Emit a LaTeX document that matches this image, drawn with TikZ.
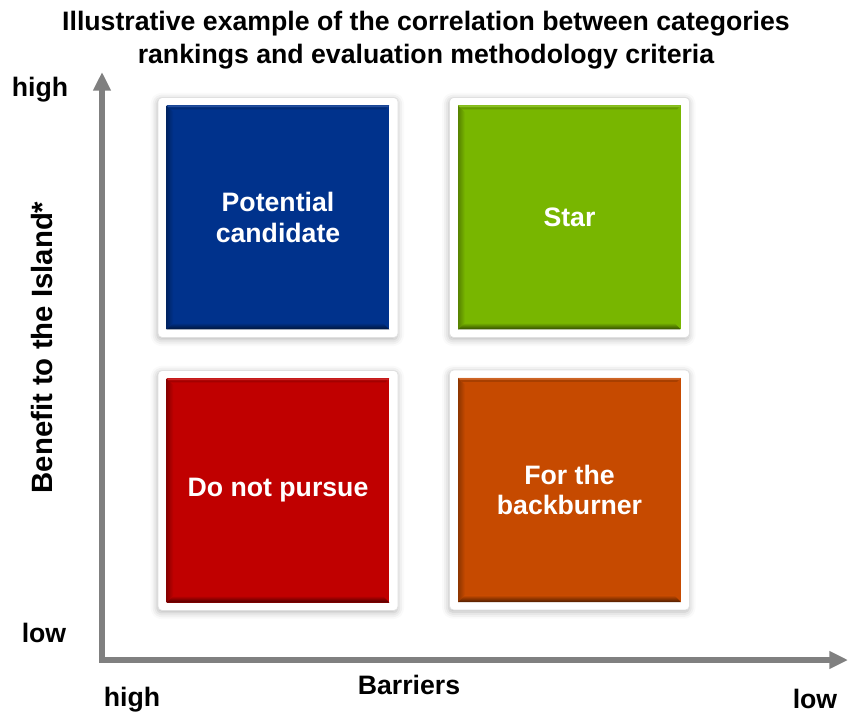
\documentclass[tikz,border=0pt]{standalone}
\usepackage{fontspec}
\setmainfont{Liberation Sans}
\usetikzlibrary{positioning,arrows.meta,shadows.blur,calc}
\definecolor{quadblue}{RGB}{0,50,140}
\definecolor{quadgreen}{RGB}{120,182,0}
\definecolor{quadred}{RGB}{192,0,0}
\definecolor{quadorange}{RGB}{198,74,0}
\definecolor{axisgray}{RGB}{128,128,128}
\tikzset{
	>={Triangle[length=14pt,width=12.5pt]},
	axis/.style = {draw=axisgray, line width=4.5pt, ->},
	label/.style = {font=\bfseries\fontsize{20}{24}\selectfont},
	frame/.style = {
		fill=white, draw=black!12, line width=0.6pt, rounded corners=3pt,
		minimum width=180pt, minimum height=180pt, inner sep=0pt,
		blur shadow={shadow xshift=-0.5pt, shadow yshift=-1.5pt, shadow blur radius=5pt, shadow opacity=30}
	},
	quad/.style = {
		fill=#1, text=white, align=center, inner sep=0pt,
		font=\bfseries\fontsize{20}{24}\selectfont,
		minimum width=167pt, minimum height=168pt,
		path picture={
			\coordinate (sw) at (path picture bounding box.south west);
			\coordinate (se) at (path picture bounding box.south east);
			\coordinate (nw) at (path picture bounding box.north west);
			\coordinate (ne) at (path picture bounding box.north east);
			\shade[left color=#1!72!black, right color=#1] (sw) -- (nw) -- ($(nw)+(5pt,-5pt)$) -- ($(sw)+(5pt,5pt)$) -- cycle;
			\shade[bottom color=#1!40!black, top color=#1] (sw) -- (se) -- ($(se)+(-5pt,5pt)$) -- ($(sw)+(5pt,5pt)$) -- cycle;
			\fill[#1!75!white, opacity=0.6] (nw) -- (ne) -- ($(ne)+(-1.5pt,-1.5pt)$) -- ($(nw)+(1.5pt,-1.5pt)$) -- cycle;
			\fill[#1!85!black] ($(nw)+(1.5pt,-1.5pt)$) -- ($(ne)+(-1.5pt,-1.5pt)$) -- ($(ne)+(-3pt,-3pt)$) -- ($(nw)+(3pt,-3pt)$) -- cycle;
		}
	}
}

\begin{document}
\begin{tikzpicture}[x=0.75pt,y=0.75pt]
\useasboundingbox (0,0) rectangle (849,714);

\node[label, align=center, font=\bfseries\fontsize{20}{25}\selectfont] (title) at (426,673.5)
	{Illustrative example of the correlation between categories\\rankings and evaluation methodology criteria};

% axes
\coordinate (origin) at (102,54);
\coordinate (ytip) at (102,642);
\coordinate (xtip) at (848,54);
\draw[axis] (origin) -- (ytip);
\draw[axis] ([xshift=-2.25pt]origin) -- (xtip);

\node[label] (yhigh) at (40,624) {high};
\node[label] (ylow) at (44,81) {low};
\node[label] (xhigh) at (132,14) {high};
\node[label] (xlow) at (815,15) {low};
\node[label] (barriers) at (409,29) {Barriers};
\node[label, rotate=90, font=\bfseries\fontsize{22}{26}\selectfont] (benefit) at (42,366.5) {Benefit to the Island*};

% quadrants
\node[frame] (potential frame) at (278,496.5) {};
\node[frame] (star frame) at (569.5,496.5) {};
\node[frame] (pursue frame) at (278,223.5) {};
\node[frame] (backburner frame) at (569.5,224) {};

\node[quad=quadblue] (potential) at (potential frame) {Potential\\[-1pt]candidate};
\node[quad=quadgreen] (star) at (star frame) {Star};
\node[quad=quadred] (pursue) at (pursue frame) {Do not pursue};
\node[quad=quadorange] (backburner) at (backburner frame) {For the\\[-1pt]backburner};

\end{tikzpicture}
\end{document}
